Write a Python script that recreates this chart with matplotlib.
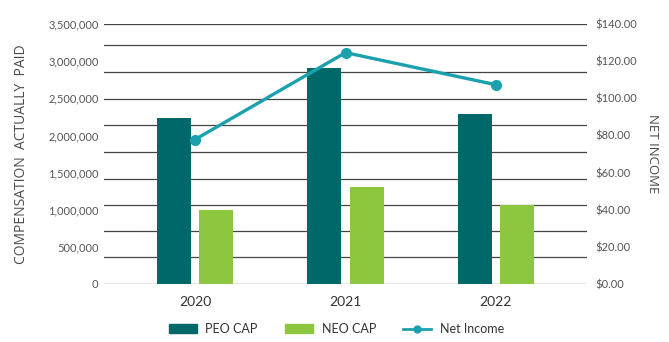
import numpy as np
import matplotlib.pyplot as plt
from matplotlib.lines import Line2D
from matplotlib.patches import Patch

# data
years = ["2020", "2021", "2022"]
peo_cap = [2240000, 2910000, 2290000]
neo_cap = [1000000, 1310000, 1070000]
net_income = [77.8, 124.6, 107.3]

left_ticks = [0, 500000, 1000000, 1500000, 2000000, 2500000, 3000000, 3500000]
right_ticks = [0, 20, 40, 60, 80, 100, 120, 140]
grid_vals = [0, 360000, 720000, 1070000, 1420000, 1780000, 2140000,
             2490000, 2850000, 3220000, 3500000]

PEO_COL = "#01686A"
NEO_COL = "#8DC63F"
LINE_COL = "#1BA1AE"
TXT = "#555555"

plt.rcParams['font.family'] = ['Lato', 'DejaVu Sans']

fig = plt.figure(figsize=(6.69, 3.42), dpi=100)
ax = fig.add_axes([0.1555, 0.1696, 0.7219, 0.7602])

x = np.arange(len(years))
w = 0.227
ax.bar(x - 0.142, peo_cap, w, color=PEO_COL, zorder=3)
ax.bar(x + 0.142, neo_cap, w, color=NEO_COL, zorder=3)

for g in grid_vals:
    ax.axhline(g, color="#444444", lw=0.9, zorder=1)

ax.set_xlim(-0.605, 2.605)
ax.set_ylim(0, 3500000)
ax.set_yticks(left_ticks)
ax.set_yticklabels([f"{v:,}" for v in left_ticks], color=TXT, fontsize=8)
ax.set_xticks(x)
ax.set_xticklabels(years, fontsize=10, color="#333333")
ax.tick_params(axis="both", length=0)
ax.tick_params(axis="y", pad=4)
ax.tick_params(axis="x", pad=9)
for s in ax.spines.values():
    s.set_visible(False)
ax.set_ylabel("COMPENSATION  ACTUALLY  PAID", family=['Open Sans', 'DejaVu Sans'],
              fontsize=10, color="#4a4a4a", labelpad=14)

ax2 = ax.twinx()
ax2.plot(x, net_income, color=LINE_COL, lw=2.4, marker="o", ms=7, zorder=5)
ax2.set_ylim(0, 140)
ax2.set_yticks(right_ticks)
ax2.set_yticklabels([f"${v:.2f}" for v in right_ticks], color=TXT, fontsize=8)
ax2.tick_params(axis="y", length=0, pad=6)
for s in ax2.spines.values():
    s.set_visible(False)
ax2.set_ylabel("NET INCOME", family=['Open Sans', 'DejaVu Sans'],
               fontsize=9.5, color="#4a4a4a", rotation=-90, labelpad=16)

handles = [Patch(color=PEO_COL), Patch(color=NEO_COL),
           Line2D([0], [0], color=LINE_COL, lw=2, marker="o", ms=5)]
fig.legend(handles, ["PEO CAP", "NEO CAP", "Net Income"], loc="center",
           bbox_to_anchor=(0.503, 0.038), ncol=3, frameon=False, fontsize=9,
           handlelength=2.2, handletextpad=0.7, columnspacing=2.2,
           labelcolor="#333333")

fig.savefig("out.png", dpi=100)
